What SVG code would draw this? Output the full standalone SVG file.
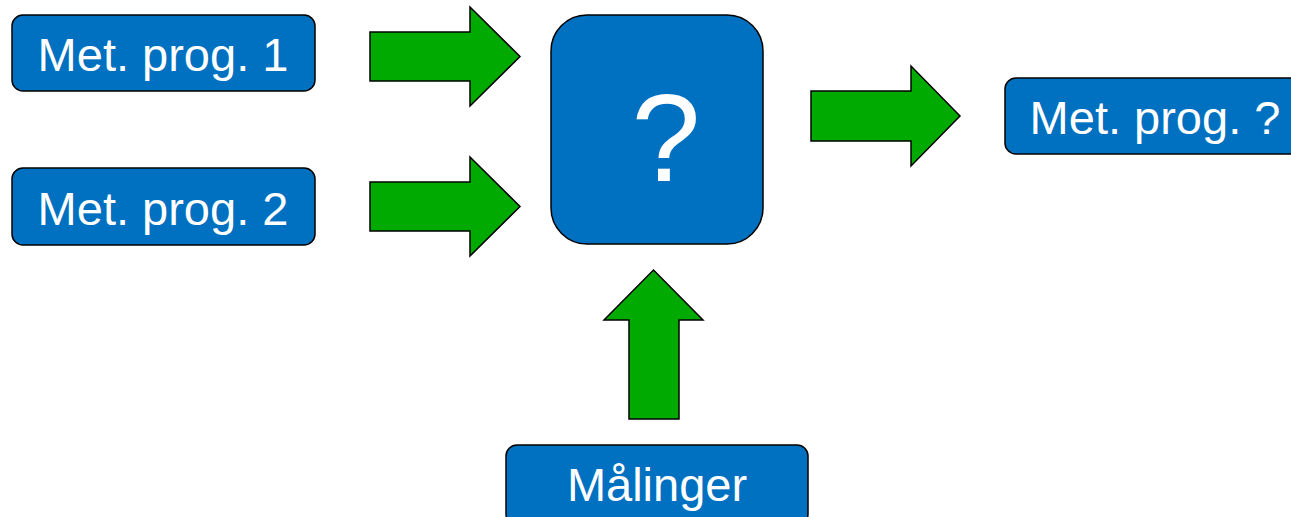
<svg xmlns="http://www.w3.org/2000/svg" width="1291" height="517" viewBox="0 0 1291 517">
<style>
.box{fill:#0070C0;stroke:#000;stroke-width:1.5}
.arr{fill:#00AA00;stroke:#000;stroke-width:1.5;stroke-linejoin:miter}
.lbl{font-family:"Liberation Sans",Arial,sans-serif;font-size:47px;fill:#fff;text-anchor:middle}
</style>
<rect width="1291" height="517" fill="#fff"/>
<g id="connectors">
<polygon class="arr" points="370,32 470,32 470,7 520,56.5 470,106 470,81 370,81"/>
<polygon class="arr" points="370,182 470,182 470,157 520,206.5 470,256 470,231 370,231"/>
<polygon class="arr" points="811,91 911,91 911,66 960,116 911,166 911,141 811,141"/>
<polygon class="arr" points="629,419 629,320 604,320 653.5,270 703,320 679,320 679,419"/>
</g>
<g id="prog1">
<rect class="box" x="12" y="15" width="303" height="76" rx="11"/>
<text class="lbl" x="163" y="71">Met. prog. 1</text>
</g>
<g id="prog2">
<rect class="box" x="12" y="168" width="303" height="77" rx="11"/>
<text class="lbl" x="163" y="225">Met. prog. 2</text>
</g>
<g id="center">
<rect class="box" x="551" y="15" width="212" height="229" rx="36"/>
<text class="lbl" x="666" y="181" style="font-size:124px">?</text>
</g>
<g id="result">
<rect class="box" x="1005" y="78" width="300" height="76" rx="11"/>
<text class="lbl" x="1155" y="134">Met. prog. ?</text>
</g>
<g id="maalinger">
<rect class="box" x="506" y="445" width="302" height="80" rx="11"/>
<text class="lbl" x="657" y="501">Målinger</text>
</g>
</svg>
